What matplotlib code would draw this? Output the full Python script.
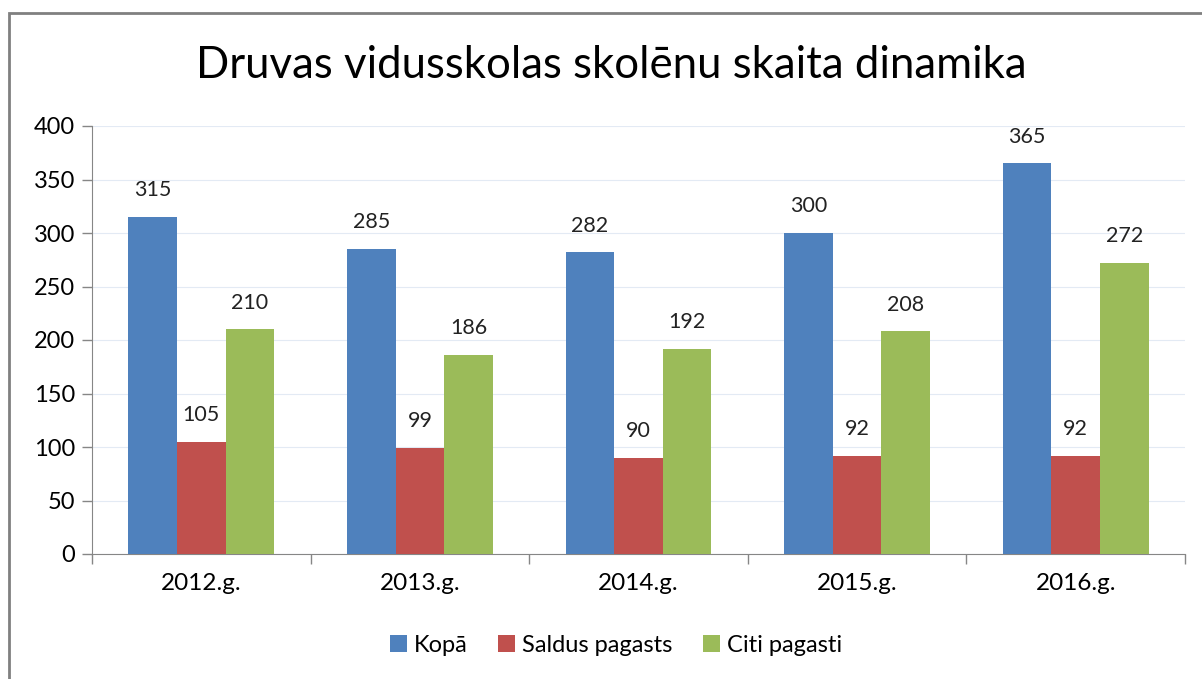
import numpy as np
import matplotlib
matplotlib.use("Agg")
import matplotlib.pyplot as plt
from matplotlib.patches import Rectangle

plt.rcParams['font.family'] = ['Lato', 'DejaVu Sans']

years = ["2012.g.", "2013.g.", "2014.g.", "2015.g.", "2016.g."]
kopa = [315, 285, 282, 300, 365]
saldus = [105, 99, 90, 92, 92]
citi = [210, 186, 192, 208, 272]
series_names = ["Kopā", "Saldus pagasts", "Citi pagasti"]
colors = ["#4F81BD", "#C0504D", "#9BBB59"]

fig = plt.figure(figsize=(12.02, 6.79), dpi=100)
ax = fig.add_axes([92/1202, 125/679, (1185-92)/1202, (554-126)/679])

# figure border (cut off on right and bottom like the screenshot)
fig.patches.append(Rectangle((9/1202, -0.05), 1.2, 0.05 + 666/679, transform=fig.transFigure,
                             fill=False, edgecolor="#808080", linewidth=2, zorder=0))

x = np.arange(len(years))
w = 1 / (3 + 1.5)
for i, (vals, name, c) in enumerate(zip([kopa, saldus, citi], series_names, colors)):
    pos = x + (i - 1) * w
    ax.bar(pos, vals, width=w, color=c, label=name, zorder=3)
    for p, v in zip(pos, vals):
        ax.annotate(str(v), (p, v), xytext=(0, 12), textcoords="offset points",
                    ha="center", va="bottom", fontsize=15.5, color="#222222")

ax.set_xlim(-0.5, len(years) - 0.5)
ax.set_ylim(0, 400)
ax.set_yticks(np.arange(0, 401, 50))
ax.yaxis.grid(True, color="#E3EAF4", linewidth=0.8, zorder=0)
ax.set_axisbelow(True)

ax.set_xticks(x)
ax.set_xticklabels(years, fontsize=17.5)
ax.set_xticks(np.arange(-0.5, len(years)), minor=True)
ax.tick_params(axis="x", which="major", length=0, pad=14)
ax.tick_params(axis="x", which="minor", length=7, color="#868686", width=1)
ax.tick_params(axis="y", length=7, color="#868686", labelsize=17, pad=5, width=1)

for s in ["top", "right"]:
    ax.spines[s].set_visible(False)
for s in ["left", "bottom"]:
    ax.spines[s].set_color("#868686")

fig.text(611/1202, 1 - 66/679, "Druvas vidusskolas skolēnu skaita dinamika",
         ha="center", va="center", fontsize=31.5)

ax.legend(loc="center", bbox_to_anchor=(616/1202, 1 - 645/679), bbox_transform=fig.transFigure,
          ncol=3, frameon=False, fontsize=17, handlelength=0.7, handleheight=0.7,
          columnspacing=1.3, handletextpad=0.3)

fig.savefig("out.png", dpi=100)
